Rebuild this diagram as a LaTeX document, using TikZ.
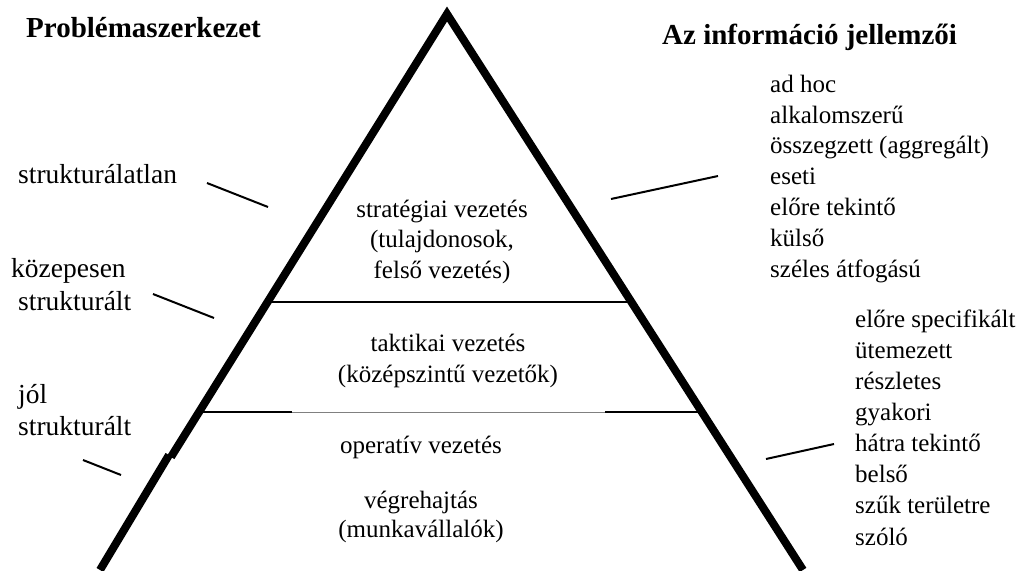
\documentclass[tikz,border=0pt]{standalone}
\usepackage{fontspec}
\setmainfont{Liberation Serif}
\begin{document}
\begin{tikzpicture}[x=1pt,y=-1pt,
  body/.style={font=\fontsize{25}{31}\selectfont, inner sep=0pt},
  label/.style={font=\fontsize{27.5}{33}\selectfont, inner sep=0pt},
  head/.style={font=\fontsize{29}{34}\selectfont\bfseries, inner sep=0pt},
  side/.style={line width=8pt, line join=miter},
  tier/.style={line width=2.4pt},
  thin/.style={line width=1pt, black!50},
  tick/.style={line width=2pt}]
\useasboundingbox (0,0) rectangle (1024,570);

% corners of the pyramid
\coordinate (apex) at (447,14);
\coordinate (baseL) at (100,570);
\coordinate (baseR) at (803,570);
\coordinate (notchU) at (171,457);
\coordinate (notchL) at (169,455);

% level boundaries
\coordinate (t1L) at (267,302);
\coordinate (t1R) at (631,302);
\coordinate (t2L) at (200,412);
\coordinate (t2a) at (292,412);
\coordinate (t2b) at (605,412);
\coordinate (t2R) at (700,412);
\draw[tier] (t1L) -- (t1R);
\draw[tier] (t2L) -- (t2a);
\draw[thin] (t2a) -- (t2b);
\draw[tier] (t2b) -- (t2R);

% sides
\draw[side] (notchU) -- (apex) -- (baseR);
\draw[side] (notchL) -- (baseL);

% headings
\node[head, anchor=base west] (probhead) at (26,37) {Problémaszerkezet};
\node[head, anchor=base west] (infohead) at (662,44) {Az információ jellemzői};

% problem structure labels
\node[label, anchor=base west] (unstr) at (18,183) {strukturálatlan};
\node[label, anchor=base west] (midstr1) at (11,277) {közepesen};
\node[label, anchor=base west] (midstr2) at (18,310) {strukturált};
\node[label, anchor=base west] (well1) at (18,403) {jól};
\node[label, anchor=base west] (well2) at (18,435) {strukturált};

% pyramid levels (base anchor sits on the last line)
\node[body, font=\fontsize{25}{30.5}\selectfont, align=center, anchor=base] (strat) at (442,278) {stratégiai vezetés\\(tulajdonosok,\\felső vezetés)};
\node[body, align=center, anchor=base] (takt) at (448,382) {taktikai vezetés\\(középszintű vezetők)};
\node[body, anchor=base] (oper) at (421,453) {operatív vezetés};
\node[body, font=\fontsize{25}{29}\selectfont, align=center, anchor=base] (exec) at (421,537) {végrehajtás\\(munkavállalók)};

% information characteristics
\node[body, font=\fontsize{25}{30.8}\selectfont, align=left, anchor=base west] (info1) at (770,277) {ad hoc\\alkalomszerű\\összegzett (aggregált)\\eseti\\előre tekintő\\külső\\széles átfogású};
\node[body, font=\fontsize{25}{31.1}\selectfont, align=left, anchor=base west] (info2) at (855,545) {előre specifikált\\ütemezett\\részletes\\gyakori\\hátra tekintő\\belső\\szűk területre\\szóló};

% pointer ticks
\coordinate (k1a) at (207,183); \coordinate (k1b) at (268,207);
\coordinate (k2a) at (153,294); \coordinate (k2b) at (214,318);
\coordinate (k3a) at (83,460);  \coordinate (k3b) at (121,475);
\coordinate (k4a) at (611,199); \coordinate (k4b) at (718,176);
\coordinate (k5a) at (766,459); \coordinate (k5b) at (834,444);
\draw[tick] (k1a) -- (k1b);
\draw[tick] (k2a) -- (k2b);
\draw[tick] (k3a) -- (k3b);
\draw[tick] (k4a) -- (k4b);
\draw[tick] (k5a) -- (k5b);
\end{tikzpicture}
\end{document}
